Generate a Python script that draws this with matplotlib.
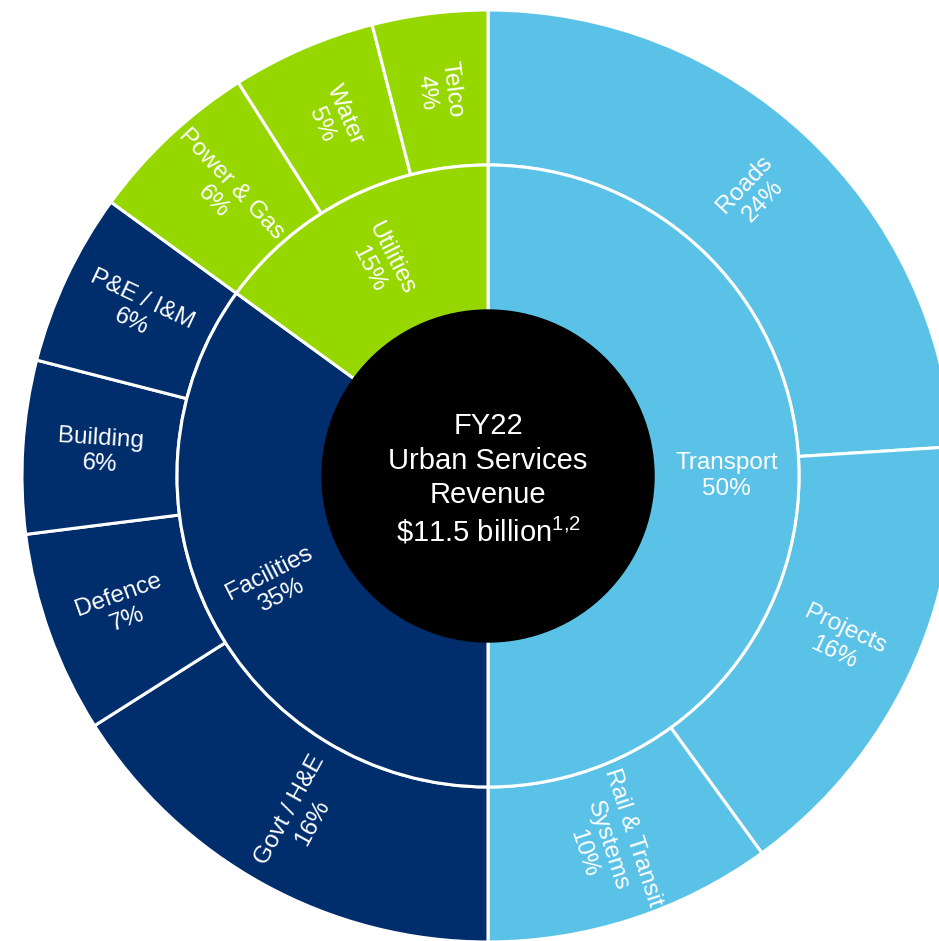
import numpy as np
import matplotlib.pyplot as plt

plt.rcParams['font.family'] = ['Liberation Sans', 'DejaVu Sans']

# inner ring: business segments (% of revenue)
segments = ['Transport', 'Facilities', 'Utilities']
segment_share = [50, 35, 15]
segment_colors = ['#5BC2E7', '#002E6D', '#97D700']

# outer ring: service lines, grouped by segment
services = ['Roads', 'Projects', 'Rail & Transit\nSystems',
            'Govt / H&E', 'Defence', 'Building', 'P&E / I&M',
            'Power & Gas', 'Water', 'Telco']
service_share = [24, 16, 10, 16, 7, 6, 6, 6, 5, 4]
service_parent = [0, 0, 0, 1, 1, 1, 1, 2, 2, 2]

centre_text = 'FY22\nUrban Services\nRevenue\n' + r'\$11.5 billion$^{\mathregular{1{,}2}}$'

# geometry in pixels
r_hole, r_mid, r_out = 166, 311, 466
cx, cy = 488, 476
W, H = 939, 941

fig = plt.figure(figsize=(W / 100, H / 100), dpi=100)
ax = fig.add_axes([0, 0, 1, 1])

edge = dict(edgecolor='white', linewidth=2.2)
ax.pie(service_share, radius=r_out, startangle=90, counterclock=False,
       colors=[segment_colors[p] for p in service_parent],
       wedgeprops=dict(width=r_out - r_mid, **edge))
ax.pie(segment_share, radius=r_mid, startangle=90, counterclock=False,
       colors=segment_colors,
       wedgeprops=dict(width=r_mid - r_hole + 2, **edge))
ax.add_patch(plt.Circle((0, 0), r_hole, color='black', zorder=5))


def ring_labels(names, shares, radius):
    total = float(sum(shares))
    start = 0.0
    for name, share in zip(names, shares):
        mid = start + share / 2.0
        start += share
        phi = 90.0 - 360.0 * mid / total
        phi = (phi + 180.0) % 360.0 - 180.0
        rot = phi
        if phi > 90:
            rot = phi - 180
        elif phi < -90:
            rot = phi + 180
        x = radius * np.cos(np.radians(phi))
        y = radius * np.sin(np.radians(phi))
        ax.text(x, y, f'{name}\n{share}%', color='white', fontsize=17.5,
                ha='center', va='center', rotation=rot,
                rotation_mode='anchor', multialignment='center',
                linespacing=1.22, zorder=6)


ring_labels(segments, segment_share, (r_hole + r_mid) / 2)
ring_labels(services, service_share, (r_mid + r_out) / 2)

ax.text(0, -4, centre_text, color='white', fontsize=21, ha='center',
        va='center', multialignment='center', linespacing=1.3, zorder=6)

ax.set_xlim(-cx, W - cx)
ax.set_ylim(-(H - cy), cy)
ax.set_aspect('equal')
ax.axis('off')

fig.savefig('out.png', dpi=100, facecolor='white')
